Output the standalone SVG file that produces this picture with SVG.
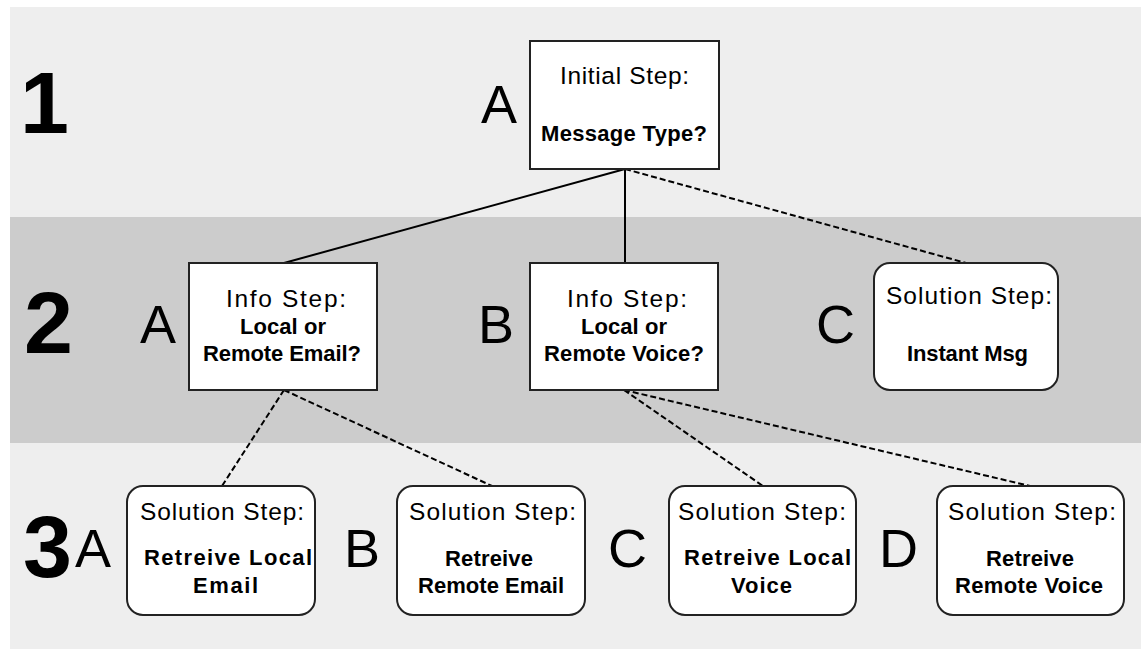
<svg xmlns="http://www.w3.org/2000/svg" width="1141" height="649" viewBox="0 0 1141 649">
<style>
.band1{fill:#eeeeee}
.band2{fill:#cccccc}
.box{fill:#ffffff;stroke:#222222;stroke-width:2}
.t{font-family:"Liberation Sans",Arial,sans-serif;fill:#000000}
.h{font-size:24.5px}
.b{font-size:22px;font-weight:bold}
.L{font-size:54px}
.D{font-size:88px;font-weight:bold}
.solid{stroke:#000000;stroke-width:2;fill:none}
.dash{stroke:#000000;stroke-width:2;fill:none;stroke-dasharray:6 3}
</style>
<rect x="0" y="0" width="1141" height="649" fill="#ffffff"/>
<rect class="band1" x="10" y="7" width="1131" height="210"/>
<rect class="band2" x="10" y="217" width="1131" height="226"/>
<rect class="band1" x="10" y="443" width="1131" height="206"/>

<g id="row-labels" class="t">
<text class="D" x="20" y="133">1</text>
<text class="D" x="24" y="353">2</text>
<text class="D" x="23" y="577">3</text>
<text class="L" x="481" y="123">A</text>
<text class="L" x="140" y="343">A</text>
<text class="L" x="478" y="343">B</text>
<text class="L" x="816" y="343">C</text>
<text class="L" x="75" y="567">A</text>
<text class="L" x="344" y="567">B</text>
<text class="L" x="608" y="567">C</text>
<text class="L" x="879" y="567">D</text>
</g>

<g id="connectors">
<line class="solid" x1="625" y1="169" x2="284" y2="263"/>
<line class="solid" x1="625" y1="169" x2="625" y2="263"/>
<line class="dash" x1="625" y1="169" x2="966" y2="263"/>
<line class="dash" x1="284" y1="390" x2="222" y2="486"/>
<line class="dash" x1="284" y1="390" x2="492" y2="486"/>
<line class="dash" x1="624" y1="390" x2="763" y2="486"/>
<line class="dash" x1="624" y1="390" x2="1030" y2="486"/>
</g>

<g id="node-1A">
<rect class="box" x="530" y="41" width="189" height="128"/>
<text class="t h" x="560" y="84" textLength="129" lengthAdjust="spacing">Initial Step:</text>
<text class="t b" x="541" y="141" textLength="166" lengthAdjust="spacing">Message Type?</text>
</g>

<g id="node-2A">
<rect class="box" x="189" y="263" width="188" height="127"/>
<text class="t h" x="226" y="307" textLength="120" lengthAdjust="spacing">Info Step:</text>
<text class="t b" x="240" y="334" textLength="86" lengthAdjust="spacing">Local or</text>
<text class="t b" x="203" y="361" textLength="158" lengthAdjust="spacing">Remote Email?</text>
</g>

<g id="node-2B">
<rect class="box" x="530" y="263" width="188" height="127"/>
<text class="t h" x="567" y="307" textLength="120" lengthAdjust="spacing">Info Step:</text>
<text class="t b" x="581" y="334" textLength="86" lengthAdjust="spacing">Local or</text>
<text class="t b" x="544" y="361" textLength="160" lengthAdjust="spacing">Remote Voice?</text>
</g>

<g id="node-2C">
<rect class="box" x="874" y="263" width="184" height="127" rx="16" ry="16"/>
<text class="t h" x="886" y="304" textLength="166" lengthAdjust="spacing">Solution Step:</text>
<text class="t b" x="907" y="361" textLength="121" lengthAdjust="spacing">Instant Msg</text>
</g>

<g id="node-3A">
<rect class="box" x="127" y="486" width="188" height="129" rx="16" ry="16"/>
<text class="t h" x="140" y="520" textLength="164" lengthAdjust="spacing">Solution Step:</text>
<text class="t b" x="144" y="565" textLength="168" lengthAdjust="spacing">Retreive Local</text>
<text class="t b" x="193" y="593" textLength="65" lengthAdjust="spacing">Email</text>
</g>

<g id="node-3B">
<rect class="box" x="397" y="486" width="188" height="129" rx="16" ry="16"/>
<text class="t h" x="409" y="520" textLength="167" lengthAdjust="spacing">Solution Step:</text>
<text class="t b" x="445" y="566" textLength="88" lengthAdjust="spacing">Retreive</text>
<text class="t b" x="418" y="593" textLength="146" lengthAdjust="spacing">Remote Email</text>
</g>

<g id="node-3C">
<rect class="box" x="669" y="486" width="187" height="129" rx="16" ry="16"/>
<text class="t h" x="678" y="520" textLength="168" lengthAdjust="spacing">Solution Step:</text>
<text class="t b" x="684" y="565" textLength="167" lengthAdjust="spacing">Retreive Local</text>
<text class="t b" x="731" y="593" textLength="61" lengthAdjust="spacing">Voice</text>
</g>

<g id="node-3D">
<rect class="box" x="937" y="486" width="187" height="129" rx="16" ry="16"/>
<text class="t h" x="948" y="520" textLength="168" lengthAdjust="spacing">Solution Step:</text>
<text class="t b" x="986" y="566" textLength="88" lengthAdjust="spacing">Retreive</text>
<text class="t b" x="955" y="593" textLength="148" lengthAdjust="spacing">Remote Voice</text>
</g>
</svg>
